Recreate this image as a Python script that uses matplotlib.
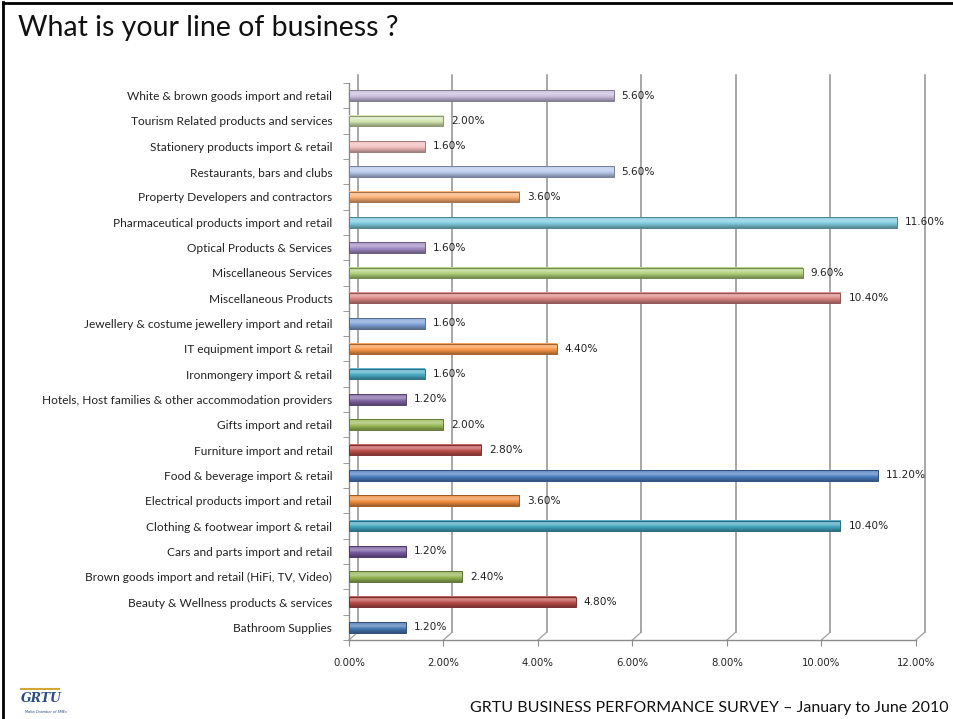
import matplotlib
matplotlib.use("Agg")
import matplotlib.pyplot as plt
import matplotlib.transforms as mtransforms
from matplotlib.colors import to_rgb
import numpy as np

# data, bottom to top as drawn
categories = [
    "Bathroom Supplies",
    "Beauty & Wellness products & services",
    "Brown goods import and retail (HiFi, TV, Video)",
    "Cars and parts import and retail",
    "Clothing & footwear import & retail",
    "Electrical products import and retail",
    "Food & beverage import & retail",
    "Furniture import and retail",
    "Gifts import and retail",
    "Hotels, Host families & other accommodation providers",
    "Ironmongery import & retail",
    "IT equipment import & retail",
    "Jewellery & costume jewellery import and retail",
    "Miscellaneous Products",
    "Miscellaneous Services",
    "Optical Products & Services",
    "Pharmaceutical products import and retail",
    "Property Developers and contractors",
    "Restaurants, bars and clubs",
    "Stationery products import & retail",
    "Tourism Related products and services",
    "White & brown goods import and retail",
]
shares = [1.2, 4.8, 2.4, 1.2, 10.4, 3.6, 11.2, 2.8, 2.0, 1.2, 1.6,
          4.4, 1.6, 10.4, 9.6, 1.6, 11.6, 3.6, 5.6, 1.6, 2.0, 5.6]
x_ticks = [0, 2, 4, 6, 8, 10, 12]

bar_colors = ["#4677B2", "#B94C49", "#93B453", "#7759A0", "#42A5BE", "#EE8C3E",
              "#4A7DC0", "#C0504D", "#9BBB59", "#8064A2", "#4BACC6", "#F79646",
              "#7FA1D6", "#D98483", "#AFCF78", "#A08AC2", "#7CC9DE", "#FAAE72",
              "#B4C6E8", "#F1BDBC", "#D3E5B0", "#C8BDDC"]


def shade(c, f):
    r, g, b = to_rgb(c)
    if f < 0:
        return np.array((r * (1 + f), g * (1 + f), b * (1 + f)))
    return np.array((r + (1 - r) * f, g + (1 - g) * f, b + (1 - b) * f))


def cylinder(c, rows=24):
    # vertical colour profile, top row first
    t = np.linspace(0, 1, rows)
    out = []
    for s in t:
        if s < 0.35:
            f = 0.10 + 0.25 * (s / 0.35)
        elif s < 0.6:
            f = 0.35 - 0.35 * (s - 0.35) / 0.25
        else:
            f = -0.32 * (s - 0.6) / 0.4
        out.append(shade(c, f))
    return np.array(out).reshape(rows, 1, 3)


fig = plt.figure(figsize=(9.54, 7.19), dpi=100)
fig.patch.set_facecolor("white")

# slide border (left and top visible)
fig.add_artist(plt.Line2D([0.0035, 0.0035], [0, 0.997], transform=fig.transFigure,
                          color="black", lw=2))
fig.add_artist(plt.Line2D([0.0035, 1.0], [0.9965, 0.9965], transform=fig.transFigure,
                          color="black", lw=2))

fig.text(0.019, 0.961, "What is your line of business ?", fontsize=20.5,
         family="Lato", va="center", ha="left", color="#111111")
fig.text(0.994, 0.015, "GRTU BUSINESS PERFORMANCE SURVEY \u2013 January to June 2010",
         fontsize=11.5, family="Lato", ha="right", va="center", color="#111111")

# small logo
fig.text(0.022, 0.028, "GRTU", fontsize=9, family="DejaVu Serif", style="italic",
         weight="bold", color="#2B4A8B", ha="left", va="center")
fig.text(0.026, 0.010, "Malta Chamber of SMEs", fontsize=2.5, family="DejaVu Sans",
         style="italic", color="#2B4A8B", ha="left", va="center")
fig.add_artist(plt.Line2D([0.022, 0.062], [0.042, 0.042], transform=fig.transFigure,
                          color="#D4A537", lw=1.5))

ax = fig.add_axes([0.3658, 0.1099, 0.5943, 0.7747])
n = len(categories)
ypos = np.arange(n)

# 3D-like back wall gridlines
back = ax.transData + mtransforms.ScaledTranslation(0.09, 0.08, fig.dpi_scale_trans)
ax.set_xlim(0, 12)
ax.set_ylim(-0.5, n - 0.5)
for xv in x_ticks:
    ax.plot([xv, xv], [-0.5, n - 0.5], color="#909090", lw=1.1, transform=back,
            clip_on=False, zorder=1)
for xv in x_ticks:
    p0 = ax.transData.transform((xv, -0.5))
    p1 = back.transform((xv, -0.5))
    inv = ax.transData.inverted()
    q0, q1 = inv.transform(p0), inv.transform(p1)
    ax.plot([q0[0], q1[0]], [q0[1], q1[1]], color="#A0A0A0", lw=0.9,
            clip_on=False, zorder=1)

# bars with a cylinder gradient
h = 0.42
for i, (v, c) in enumerate(zip(shares, bar_colors)):
    ax.imshow(cylinder(c), extent=[0, v, ypos[i] - h / 2, ypos[i] + h / 2],
              aspect="auto", interpolation="bilinear", zorder=3)
    ax.barh(ypos[i], v, height=h, color="none", edgecolor=shade(c, -0.35),
            lw=0.7, zorder=4)
    ax.text(v + 0.17, ypos[i], f"{v:.2f}%", fontsize=7.6, family="DejaVu Sans",
            va="center", ha="left", color="#222222", zorder=5)

ax.set_xlim(0, 12)
ax.set_ylim(-0.5, n - 0.5)

for side in ["top", "right"]:
    ax.spines[side].set_visible(False)
ax.spines["left"].set_color("#8C8C8C")
ax.spines["bottom"].set_color("#8C8C8C")
ax.spines["left"].set_linewidth(1.0)
ax.spines["bottom"].set_linewidth(1.0)

ax.set_xticks(x_ticks)
ax.set_xticklabels([f"{t:.2f}%" for t in x_ticks], fontsize=7.3, family="DejaVu Sans",
                   color="#222222")
ax.set_yticks(ypos)
ax.set_yticklabels(categories, fontsize=8.6, family="Lato", color="#222222")
ax.set_yticks(np.arange(n + 1) - 0.5, minor=True)
ax.tick_params(axis="y", which="major", length=0, pad=12)
ax.tick_params(axis="y", which="minor", length=4, color="#8C8C8C")
ax.tick_params(axis="x", length=4, color="#8C8C8C", pad=9)
ax.set_facecolor("none")

fig.savefig("out.png", dpi=100, facecolor="white")
